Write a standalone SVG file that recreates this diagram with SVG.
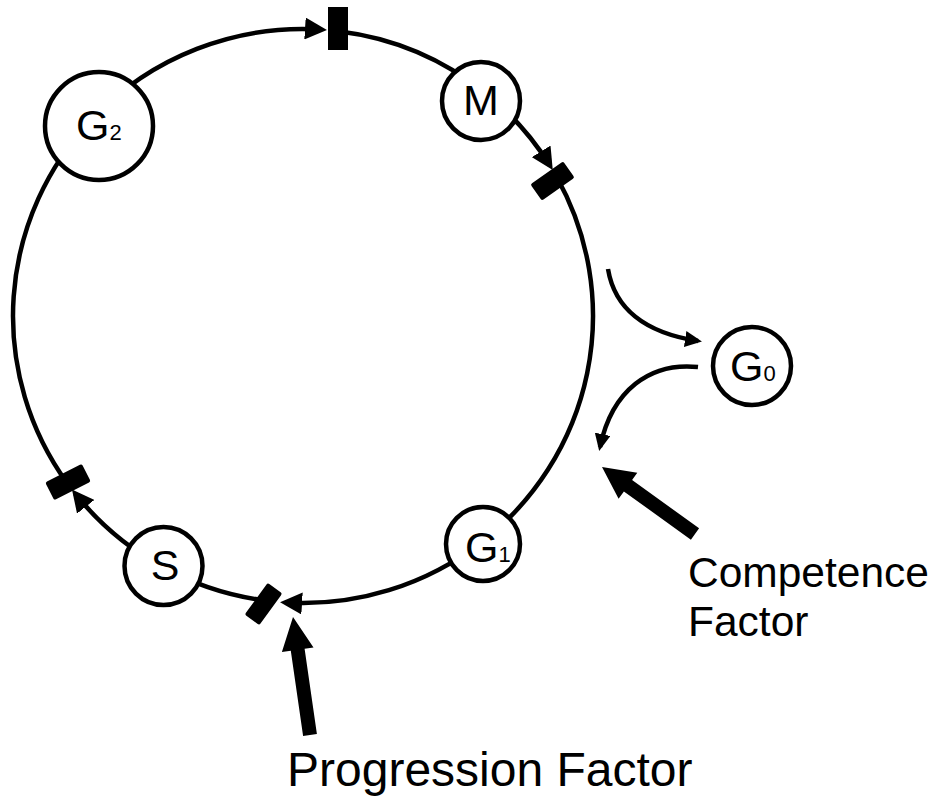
<svg xmlns="http://www.w3.org/2000/svg" width="934" height="799" viewBox="0 0 934 799">
<style>
  .ring { fill: none; stroke: #000; stroke-width: 4.5; }
  .node circle { fill: #fff; stroke: #000; stroke-width: 4.5; }
  .lbl { font-family: "Liberation Sans", Arial, sans-serif; font-size: 43px; fill: #000; }
  .sub { font-size: 22px; }
  .cp { fill: #000; }
  .big { fill: #000; }
  .cap { font-family: "Liberation Sans", Arial, sans-serif; font-size: 42.5px; fill: #000; }
</style>
<defs>
  <marker id="ah" markerUnits="userSpaceOnUse" markerWidth="22" markerHeight="22" viewBox="0 0 22 22" refX="17" refY="11" orient="auto">
    <path d="M0,0 L22,11 L0,22 z" fill="#000"/>
  </marker>
  <marker id="ahs" markerUnits="userSpaceOnUse" markerWidth="17" markerHeight="16" viewBox="0 0 17 16" refX="13" refY="8" orient="auto">
    <path d="M0,0 L17,8 L0,16 z" fill="#000"/>
  </marker>
</defs>
<g id="connectors">
  <path class="ring" d="M91.94,119.18 A290,287 0 0 1 321.97,29.61" marker-end="url(#ah)"/>
  <path class="ring" d="M338.35,31.15 A290,287 0 0 1 486.69,93.92"/>
  <path class="ring" d="M486.69,93.92 A290,287 0 0 1 550.14,165.81" marker-end="url(#ah)"/>
  <path class="ring" d="M556.63,176.86 A290,287 0 0 1 481.55,542.16"/>
  <path class="ring" d="M481.55,542.16 A290,287 0 0 1 285.05,602.45" marker-end="url(#ah)"/>
  <path class="ring" d="M264.14,600.42 A290,287 0 0 1 162.41,567.01"/>
  <path class="ring" d="M162.41,567.01 A290,287 0 0 1 75.08,493.48" marker-end="url(#ah)"/>
  <path class="ring" d="M66.91,482.66 A290,287 0 0 1 91.94,119.18"/>
  <path class="ring" d="M608,269 C614,305 640,332 698,341" marker-end="url(#ahs)"/>
  <path class="ring" d="M698,367 C650,362 612,390 600,447" marker-end="url(#ahs)"/>
  <polygon class="big" points="293,617 313.5,647.4 304.6,648.7 316.9,734 303.1,736 290.8,650.7 281.9,652"/>
  <polygon class="big" points="602,467 637.3,472.7 632.1,480 699.1,528.3 690.9,539.7 623.9,491.4 618.6,498.7"/>
</g>
<g id="checkpoints">
  <rect class="cp" x="328" y="7" width="20" height="43"/>
  <rect class="cp" x="-20" y="-10" width="40" height="20" rx="2" transform="translate(552.5,181) rotate(-35)"/>
  <rect class="cp" x="-19.5" y="-9" width="39" height="18" rx="2" transform="translate(263.5,604) rotate(-54)"/>
  <rect class="cp" x="-20.5" y="-10" width="41" height="20" rx="2" transform="translate(68,482) rotate(-27)"/>
</g>
<g id="G2" class="node">
  <circle cx="99" cy="126" r="54"/>
  <text class="lbl" x="76" y="140">G<tspan class="sub">2</tspan></text>
</g>
<g id="M" class="node">
  <circle cx="481" cy="101" r="39"/>
  <text class="lbl" x="481" y="115" text-anchor="middle">M</text>
</g>
<g id="G1" class="node">
  <circle cx="483" cy="544" r="37"/>
  <text class="lbl" x="465" y="562">G<tspan class="sub">1</tspan></text>
</g>
<g id="S" class="node">
  <circle cx="163.5" cy="566" r="39"/>
  <text class="lbl" x="165" y="580" text-anchor="middle">S</text>
</g>
<g id="G0" class="node">
  <circle cx="752" cy="366" r="39"/>
  <text class="lbl" x="730" y="381">G<tspan class="sub">0</tspan></text>
</g>
<g id="labels">
  <text class="cap" x="688" y="587">Competence</text>
  <text class="cap" x="688" y="636">Factor</text>
  <text class="cap" x="287" y="786" style="font-size:48px">Progression Factor</text>
</g>
</svg>
